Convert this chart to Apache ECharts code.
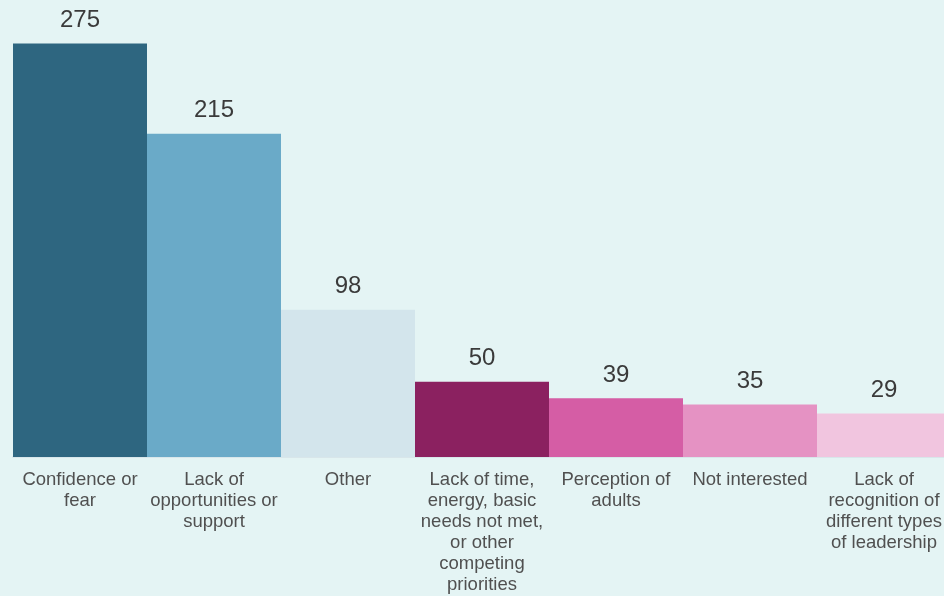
<!DOCTYPE html>
<html>
<head>
<meta charset="utf-8">
<script src="https://cdn.jsdelivr.net/npm/echarts@6/dist/echarts.min.js"></script>
<style>
html,body{margin:0;padding:0;background:#e4f4f4;}
#c{width:944px;height:596px;}
</style>
</head>
<body>
<div id="c"></div>
<script>
var categories = ["Confidence or\nfear", "Lack of\nopportunities or\nsupport", "Other", "Lack of time,\nenergy, basic\nneeds not met,\nor other\ncompeting\npriorities", "Perception of\nadults", "Not interested", "Lack of\nrecognition of\ndifferent types\nof leadership"];
var values = [275, 215, 98, 50, 39, 35, 29];
var barColors = ["#2e6680", "#6aaac8", "#d3e5ec", "#8b2160", "#d55da5", "#e592c3", "#f1c5df"];

var chart = echarts.init(document.getElementById('c'), null, {renderer: 'canvas'});
chart.setOption({
  backgroundColor: '#e4f4f4',
  animation: false,
  grid: {left: 13, top: 6, width: 938, bottom: 139, containLabel: false, outerBoundsMode: 'none'},
  xAxis: {
    type: 'category',
    data: categories,
    axisTick: {show: false},
    axisLine: {show: true, lineStyle: {color: '#d8e6ea', width: 2}},
    axisLabel: {
      interval: 0,
      color: '#505050',
      fontFamily: 'Liberation Sans, Arial, sans-serif',
      fontSize: 18.5,
      lineHeight: 21,
      margin: 12
    }
  },
  yAxis: {
    type: 'value',
    min: 0,
    max: 300,
    show: false,
    splitLine: {show: false}
  },
  series: [{
    type: 'bar',
    barCategoryGap: '0%',
    data: values.map(function (v, i) { return {value: v, itemStyle: {color: barColors[i]}}; }),
    label: {
      show: true,
      position: 'top',
      distance: 11,
      color: '#3a3a3a',
      fontFamily: 'Liberation Sans, Arial, sans-serif',
      fontSize: 24
    }
  }]
});
</script>
</body>
</html>
